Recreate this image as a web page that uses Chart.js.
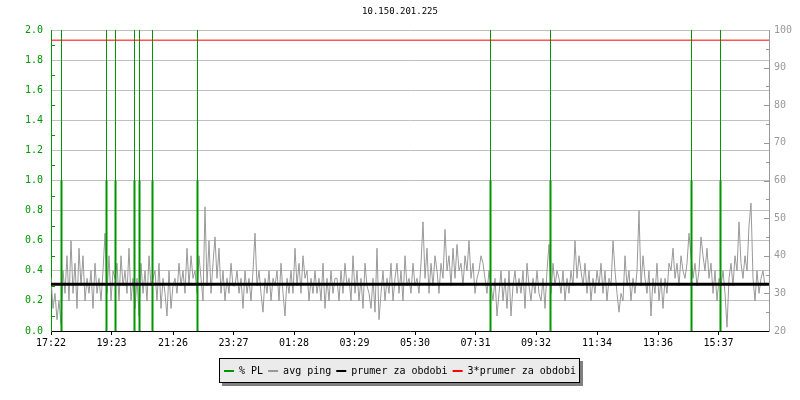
<!DOCTYPE html>
<html lang="en">
<head>
  <meta charset="UTF-8" />
  <title>10.150.201.225</title>
  <style>
    body {
      margin: 0;
      background: #fff;
    }
    .wrap {
      width: 800px;
      height: 400px;
    }
  </style>
</head>
<body>
  <div class="wrap"><canvas id="pingChart" width="800" height="400"></canvas></div>

  <script src="https://cdn.jsdelivr.net/npm/chart.js"></script>
  <script>
    // x axis: minutes since 17:22
    const tickLabels = ['17:22', '19:23', '21:26', '23:27', '01:28', '03:29', '05:30', '07:31', '09:32', '11:34', '13:36', '15:37'];
    const tickMinutes = [0, 121, 244, 365, 486, 607, 728, 849, 970, 1092, 1214, 1335];
    const xEnd = 1436;
    const sampleMinutes = 4;

    // avg ping (ms), one value every 4 minutes
    const avgPing = [
      34, 26, 30, 23, 28, 22,
      36, 30, 40, 28, 44, 30, 38, 26, 42,
      32, 40, 28, 34, 30, 36, 26, 38, 30, 34, 28, 36,
      46, 30, 40, 28, 36,
      34, 38, 28, 40, 32, 36, 30, 42, 28, 34,
      26, 34, 24, 38, 30, 36, 28, 40, 32, 34,
      36, 28, 38, 26, 34, 30, 24, 36, 26, 32,
      34, 30, 38, 32, 36, 30, 42, 32, 40, 34,
      36, 30, 40, 34, 28, 53, 32, 44, 30, 38,
      45, 34, 42, 30, 36, 28, 34, 30, 38, 32,
      32, 36, 30, 34, 26, 36, 30, 34, 28, 36,
      46, 32, 36, 30, 25, 34, 30, 36, 28, 34,
      32, 36, 28, 38, 30, 24, 34, 30, 36, 30,
      42, 32, 38, 30, 40, 34, 36, 28, 34, 30,
      36, 30, 34, 28, 38, 26, 34, 28, 36, 30, 34,
      34, 28, 36, 30, 38, 32, 34, 28, 40, 30,
      36, 28, 34, 26, 38, 32, 30, 26, 34, 25,
      42, 23, 30, 36, 28, 34, 30, 38, 28, 34,
      38, 30, 36, 28, 40, 32, 34, 30, 38, 32,
      34, 30, 38, 49, 34, 42, 30, 38, 32, 40,
      36, 30, 38, 34, 47, 36, 40, 32, 42, 34,
      43, 36, 38, 32, 40, 36, 44, 34, 38, 30, 34,
      36, 40, 38, 34, 30, 36, 32, 28, 34, 24,
      30, 36, 28, 34, 26, 36, 24, 32, 36, 30,
      34, 30, 36, 26, 38, 32, 28, 34, 30, 36,
      30, 28, 34, 26, 36, 43, 30, 38, 32, 36,
      34, 30, 36, 28, 34, 30, 36, 32, 44, 34,
      40, 36, 32, 38, 30, 36, 28, 34, 30, 36,
      32, 38, 30, 36, 28, 34, 32, 44, 36, 30, 25, 30,
      28, 40, 32, 36, 28, 34, 30, 36, 52, 32,
      40, 34, 30, 36, 24, 34, 30, 38, 28, 34,
      26, 34, 30, 38, 36, 42, 34, 38, 32, 40,
      36, 34, 38, 46, 40, 34, 38, 32, 36, 45,
      40, 36, 42, 34, 38, 30, 36, 28, 34, 32,
      36, 30, 21, 34, 38, 32, 40, 36, 49, 38,
      34, 40, 36, 48, 54, 34, 28, 36, 30, 34, 36, 32
    ];

    // packet loss events (minutes since start)
    const plMinutes = [21, 111, 129, 167, 177, 203, 293, 879, 999, 1281, 1339];
    const plValues = [1, 1, 1, 1, 1, 1, 1, 1, 1, 1, 1];
    const plTopValue = 2.0;

    const prumer = 32.4;
    const prumer3 = 97.3;

    const GREEN = '#009600';
    const GRAY = '#999999';
    const GRID = '#c0c0c0';

    const pingPoints = avgPing.map((v, i) => ({ x: i * sampleMinutes, y: v }));
    const plThick = [];
    const plThin = [];
    plMinutes.forEach((m, i) => {
      plThick.push({ x: m, y: 0 }, { x: m, y: plValues[i] }, { x: m, y: null });
      plThin.push({ x: m, y: 0 }, { x: m, y: plTopValue }, { x: m, y: null });
    });

    Chart.defaults.font.family = "'DejaVu Sans Mono', monospace";
    Chart.defaults.font.size = 10;
    Chart.defaults.color = '#000';

    // small inward ticks on both y axes
    const minorTicks = {
      id: 'minorTicks',
      afterDraw(chart) {
        const ctx = chart.ctx;
        const a = chart.chartArea;
        const yl = chart.scales.y;
        const yr = chart.scales.y2;
        ctx.save();
        ctx.lineWidth = 1;
        ctx.strokeStyle = GREEN;
        for (let v = 0.1; v < 2; v += 0.2) {
          const p = Math.round(yl.getPixelForValue(v)) + 0.5;
          ctx.beginPath();
          ctx.moveTo(a.left, p);
          ctx.lineTo(a.left + 4, p);
          ctx.stroke();
        }
        ctx.strokeStyle = GRAY;
        for (let v = 25; v < 100; v += 5) {
          const p = Math.round(yr.getPixelForValue(v)) + 0.5;
          const len = v % 10 === 0 ? 5 : 3;
          ctx.beginPath();
          ctx.moveTo(a.right - len, p);
          ctx.lineTo(a.right, p);
          ctx.stroke();
        }
        ctx.restore();
      }
    };

    // framed legend with a drop shadow
    const legendBox = {
      id: 'legendBox',
      beforeDraw(chart) {
        const lg = chart.legend;
        if (!lg || !lg.legendHitBoxes || !lg.legendHitBoxes.length) return;
        const hb = lg.legendHitBoxes;
        const left = Math.round(Math.min(...hb.map(h => h.left))) - 5;
        const right = Math.round(Math.max(...hb.map(h => h.left + h.width))) + 3;
        const top = Math.round(hb[0].top) - 8;
        const bottom = Math.round(hb[0].top + hb[0].height) + 6;
        const ctx = chart.ctx;
        ctx.save();
        ctx.fillStyle = '#808080';
        ctx.fillRect(left + 3, top + 3, right - left + 1, bottom - top + 1);
        ctx.fillStyle = '#ebebeb';
        ctx.fillRect(left, top, right - left, bottom - top);
        ctx.strokeStyle = '#000';
        ctx.lineWidth = 1;
        ctx.strokeRect(left + 0.5, top + 0.5, right - left, bottom - top);
        ctx.restore();
      }
    };

    new Chart(document.getElementById('pingChart'), {
      type: 'line',
      data: {
        datasets: [
          {
            label: '% PL',
            data: plThick,
            yAxisID: 'y',
            borderColor: GREEN,
            backgroundColor: GREEN,
            borderWidth: 2,
            pointRadius: 0,
            order: 1
          },
          {
            label: 'avg ping',
            data: pingPoints,
            yAxisID: 'y2',
            borderColor: GRAY,
            backgroundColor: GRAY,
            borderWidth: 1,
            pointRadius: 0,
            tension: 0,
            order: 3
          },
          {
            label: 'prumer za obdobi',
            data: [{ x: 0, y: prumer }, { x: xEnd, y: prumer }],
            yAxisID: 'y2',
            borderColor: '#000000',
            backgroundColor: '#000000',
            borderWidth: 3,
            pointRadius: 0,
            order: 0
          },
          {
            label: '3*prumer za obdobi',
            data: [{ x: 0, y: prumer3 }, { x: xEnd, y: prumer3 }],
            yAxisID: 'y2',
            borderColor: '#ff0000',
            backgroundColor: '#ff0000',
            borderWidth: 1,
            pointRadius: 0,
            order: 0
          },
          {
            label: '',
            data: plThin,
            yAxisID: 'y',
            borderColor: GREEN,
            borderWidth: 1,
            pointRadius: 0,
            order: 2
          }
        ]
      },
      options: {
        responsive: false,
        animation: false,
        devicePixelRatio: 1,
        layout: {
          padding: { left: 0, right: 0, top: 0, bottom: 14 }
        },
        scales: {
          x: {
            type: 'linear',
            min: 0,
            max: xEnd,
            afterBuildTicks: scale => {
              scale.ticks = tickMinutes.map(v => ({ value: v }));
            },
            afterFit: scale => { scale.height = 30; },
            ticks: {
              autoSkip: false,
              maxRotation: 0,
              padding: 2,
              color: '#000',
              callback: (value, index) => tickLabels[index]
            },
            grid: {
              drawOnChartArea: false,
              drawTicks: true,
              tickLength: 4,
              color: '#000'
            },
            border: { color: '#000', width: 1 }
          },
          y: {
            position: 'left',
            min: 0,
            max: 2,
            afterFit: scale => { scale.width = 51; },
            ticks: {
              stepSize: 0.2,
              color: GREEN,
              padding: 8,
              callback: v => v.toFixed(1)
            },
            grid: {
              drawTicks: false,
              color: ctx => (ctx.tick && ctx.tick.value === 0 ? 'rgba(0,0,0,0)' : GRID)
            },
            border: { color: GREEN, width: 1 }
          },
          y2: {
            position: 'right',
            min: 20,
            max: 100,
            afterFit: scale => { scale.width = 31; },
            ticks: {
              stepSize: 10,
              color: GRAY,
              padding: 5
            },
            grid: {
              drawOnChartArea: false,
              drawTicks: false
            },
            border: { color: GRAY, width: 1 }
          }
        },
        plugins: {
          title: {
            display: true,
            text: '10.150.201.225',
            color: '#000',
            font: { size: 9, weight: 'normal', lineHeight: '12px' },
            padding: { top: 6, bottom: 12 }
          },
          legend: {
            position: 'bottom',
            labels: {
              boxWidth: 10,
              boxHeight: 2,
              padding: 5,
              color: '#000',
              font: { size: 10 },
              generateLabels: chart => chart.data.datasets
                .map((ds, i) => ({
                  text: ds.label,
                  fillStyle: ds.borderColor,
                  strokeStyle: ds.borderColor,
                  lineWidth: 0,
                  hidden: false,
                  datasetIndex: i,
                  fontColor: '#000'
                }))
                .filter(item => item.text)
            }
          },
          tooltip: { enabled: false }
        }
      },
      plugins: [minorTicks, legendBox]
    });
  </script>
</body>
</html>
